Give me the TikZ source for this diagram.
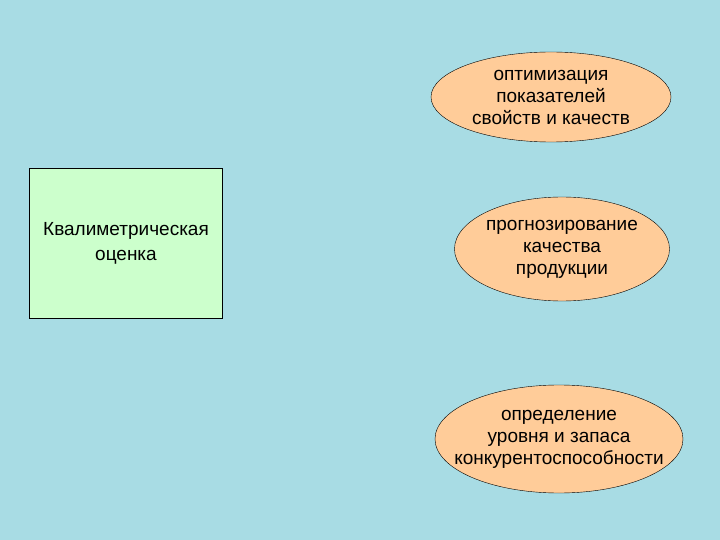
\documentclass[tikz,border=0pt]{standalone}
\usepackage{fontspec}
\setmainfont{Liberation Sans}
\usetikzlibrary{shapes.geometric}
\definecolor{water}{HTML}{A8DCE4}
\definecolor{peach}{HTML}{FFCC99}
\definecolor{mint}{HTML}{CCFFCC}

\begin{document}
\begin{tikzpicture}[x=1pt,y=-1pt,
		oval/.style={draw=black, fill=peach, ellipse, inner sep=0pt, align=center, font=\fontsize{19}{22}\selectfont}]
			% background
			\fill[water] (0,0) rectangle (720,540);
			\useasboundingbox (0,0) rectangle (720,540);
			
			\node[draw=black, fill=mint, minimum width=193pt, minimum height=150pt, inner sep=0pt, align=center, font=\fontsize{19}{25}\selectfont] (kval) at (126,243) {Квалиметрическая\\оценка};
			
			\node[oval, minimum width=240pt, minimum height=90pt] (optim) at (551,97) {оптимизация\\показателей\\свойств и качеств};
			\node[oval, minimum width=215pt, minimum height=104pt] (prog) at (562,249) {прогнозирование\\качества\\продукции};
			\node[oval, inner xsep=-20pt, inner ysep=-10pt, minimum width=248pt, minimum height=108pt] (opred) at (559,439) {определение\\уровня и запаса\\конкурентоспособности};
		\end{tikzpicture}
\end{document}
